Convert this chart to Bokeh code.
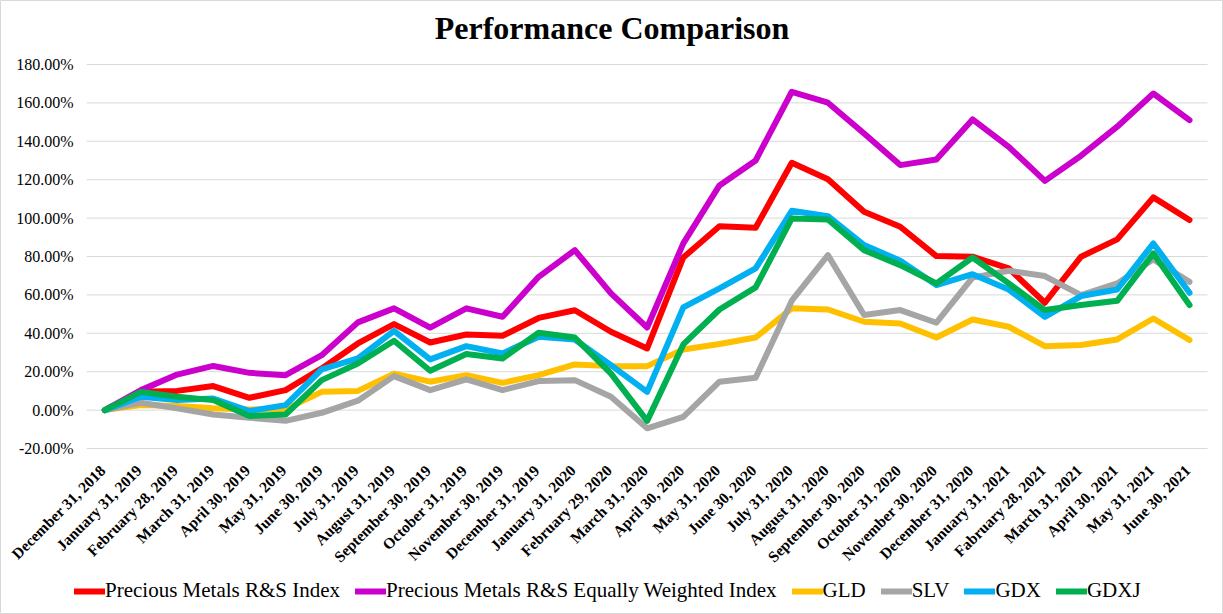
import numpy as np
from bokeh.plotting import figure
from bokeh.models import ColumnDataSource, Legend, LegendItem
from bokeh.core.properties import value
from bokeh.embed import file_html
from bokeh.resources import INLINE

# data (percent return since Dec 31, 2018)

dates = ['December 31, 2018', 'January 31, 2019', 'February 28, 2019', 'March 31, 2019',
         'April 30, 2019', 'May 31, 2019', 'June 30, 2019', 'July 31, 2019',
         'August 31, 2019', 'September 30, 2019', 'October 31, 2019', 'November 30, 2019',
         'December 31, 2019', 'January 31, 2020', 'February 29, 2020', 'March 31, 2020',
         'April 30, 2020', 'May 31, 2020', 'June 30, 2020', 'July 31, 2020',
         'August 31, 2020', 'September 30, 2020', 'October 31, 2020', 'November 30, 2020',
         'December 31, 2020', 'January 31, 2021', 'Fabruary 28, 2021', 'March 31, 2021',
         'April 30, 2021', 'May 31, 2021', 'June 30, 2021']

rs_index = [0, 9.5, 10.0, 12.5, 6.4, 10.4, 21.7, 34.7, 44.8, 35.2, 39.4, 38.7, 48.0, 52.0,
            40.8, 32.1, 79.5, 95.8, 95.0, 128.8, 120.2, 103.3, 95.5, 80.2, 79.9, 73.8,
            55.9, 79.9, 88.9, 110.8, 99.0]
rs_equal = [0, 10.4, 18.5, 23.0, 19.4, 18.2, 28.6, 45.7, 53.0, 43.0, 53.0, 48.6, 69.4, 83.3,
            60.8, 43.0, 86.8, 117.0, 130.0, 165.8, 160.1, 144.1, 127.6, 130.5, 151.4, 137.1,
            119.4, 132.5, 147.6, 164.9, 151.0]
gld = [0, 2.6, 2.1, 0.9, 0.3, 0.5, 9.5, 10.0, 19.0, 14.8, 18.2, 14.2, 18.2, 23.8,
       22.9, 22.9, 31.6, 34.4, 37.8, 53.0, 52.4, 46.0, 45.1, 37.8, 47.2, 43.4,
       33.3, 33.9, 36.8, 47.7, 36.5]
slv = [0, 3.8, 0.9, -2.3, -4.0, -5.6, -1.4, 4.9, 17.7, 10.4, 16.0, 10.4, 15.1, 15.6,
       7.0, -9.5, -3.5, 14.8, 16.8, 57.0, 80.7, 49.5, 52.1, 45.5, 69.0, 72.6,
       69.8, 59.9, 66.0, 78.5, 66.8]
gdx = [0, 7.0, 5.2, 6.0, -0.5, 2.6, 21.2, 26.9, 41.3, 26.4, 33.3, 29.5, 38.2, 36.8,
       23.4, 9.5, 53.5, 63.4, 73.8, 103.8, 101.0, 86.0, 77.8, 65.1, 70.8, 62.8,
       48.6, 59.4, 62.8, 86.8, 61.1]
gdxj = [0, 9.5, 7.0, 5.2, -3.1, -2.3, 15.6, 24.3, 36.1, 20.5, 29.2, 26.9, 40.3, 37.8,
        19.0, -5.6, 34.2, 52.4, 63.9, 99.8, 99.3, 83.3, 75.5, 66.0, 79.5, 66.0,
        52.1, 54.7, 56.9, 81.6, 54.7]

names = ['Precious Metals R&S Index', 'Precious Metals R&S Equally Weighted Index',
         'GLD', 'SLV', 'GDX', 'GDXJ']
series = [rs_index, rs_equal, gld, slv, gdx, gdxj]
colors = ['#FF0000', '#CC00CC', '#FFC000', '#A5A5A5', '#00B0F0', '#00B050']

y_ticks = [-20, 0, 20, 40, 60, 80, 100, 120, 140, 160, 180]
y_labels = ["%.2f%%" % t for t in y_ticks]

serif = "Liberation Serif"

# the frame covers the whole canvas; axes, dates, legend and title are drawn in it
idx = list(range(len(dates)))
x_start, x_end = -2.884, 30.94
y_bottom, y_top = -106.46, 213.33
grid_left, grid_right = -0.5, len(dates) - 0.5
label_y = -30
title_y = 198.8

p = figure(x_range=(x_start, x_end), y_range=(y_bottom, y_top),
           width=1223, height=614, output_backend="svg", toolbar_location=None,
           x_axis_location=None, y_axis_location=None,
           min_border_left=0, min_border_right=0, min_border_top=0, min_border_bottom=0)

p.grid.visible = False
p.outline_line_color = "#D9D9D9"
p.outline_line_width = 1

# horizontal gridlines and the percent labels
p.segment(x0=[grid_left] * len(y_ticks), x1=[grid_right] * len(y_ticks),
          y0=y_ticks, y1=y_ticks, line_color="#D9D9D9", line_width=1)
p.text(x=[grid_left] * len(y_ticks), y=y_ticks, text=y_labels, x_offset=-13,
       text_align="right", text_baseline="middle",
       text_font=value(serif), text_font_size="16px", text_color="black")

# rotated date labels
p.text(x=idx, y=[label_y] * len(dates), text=dates, angle=np.pi / 4,
       text_align="right", text_baseline="middle", x_offset=-2,
       text_font=value(serif), text_font_size="15.5px", text_font_style="bold",
       text_color="black")

# title
p.text(x=[(x_start + x_end) / 2], y=[title_y], text=["Performance Comparison"],
       text_align="center", text_baseline="alphabetic",
       text_font=value(serif), text_font_size="32px", text_font_style="bold",
       text_color="black")

items = []
for name, vals, c in zip(names, series, colors):
    src = ColumnDataSource({'x': idx, 'y': vals})
    r = p.line(x='x', y='y', source=src, line_color=c, line_width=6,
               line_join="round", line_cap="round")
    items.append(LegendItem(label=name, renderers=[r]))

legend = Legend(items=items, orientation="horizontal", location=(74, 11),
                label_text_font=serif, label_text_font_size="21px",
                label_text_color="black", glyph_width=31, label_standoff=0,
                spacing=15, border_line_color=None, background_fill_alpha=0,
                padding=0, margin=0)
p.add_layout(legend)

open("out.html", "w").write(file_html(p, INLINE))
